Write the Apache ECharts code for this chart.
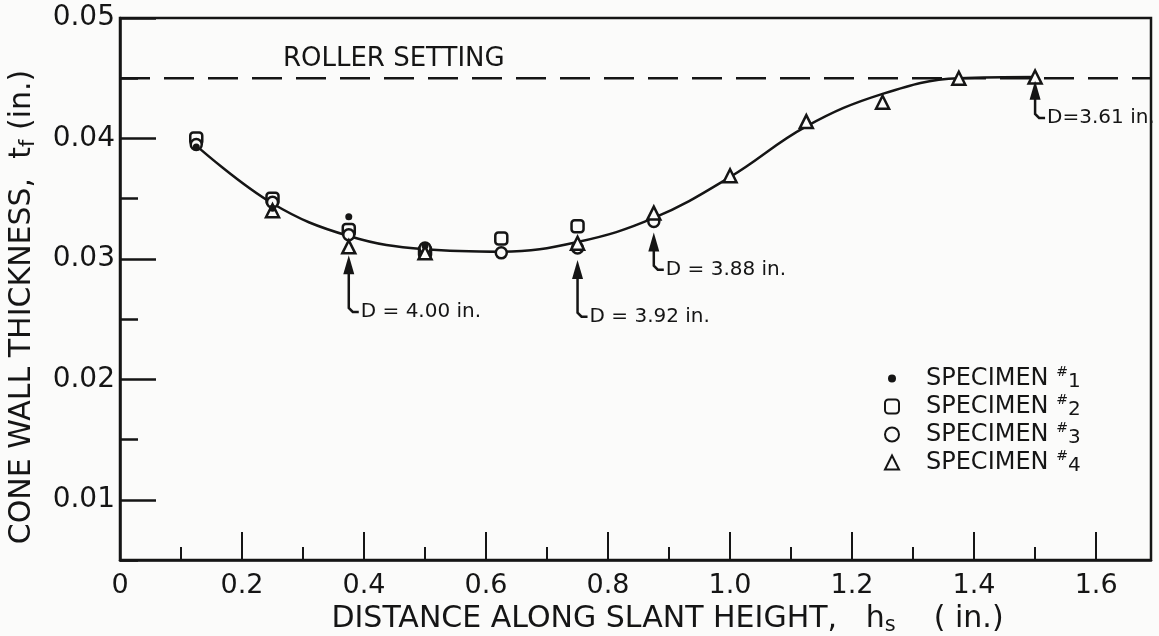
<!DOCTYPE html>
<html>
<head>
<meta charset="utf-8">
<title>Cone wall thickness</title>
<script src="https://cdn.jsdelivr.net/npm/echarts@6/dist/echarts.min.js"></script>
<style>
  html, body { margin: 0; padding: 0; background: #fbfbfa; }
  #chart { width: 1159px; height: 636px; }
</style>
</head>
<body>
<div id="chart"></div>
<script>
// distance along slant height h_s (in.)
const positions = [0.125, 0.25, 0.375, 0.5, 0.625, 0.75, 0.875, 1.0, 1.125, 1.25, 1.375, 1.5];
// faired curve through the measurements, t_f (in.)
const fairedCurve = [0.0394, 0.0346, 0.0319, 0.0308, 0.0306, 0.0314, 0.0334, 0.0368, 0.0410, 0.0437, 0.0450, 0.0451];
// measured wall thickness per specimen (null = no point)
const specimen1 = [0.0393, 0.0342, 0.0335, 0.0311, null, null, null, null, null, null, null, null];
const specimen2 = [0.0400, 0.0350, 0.0324, 0.0306, 0.0317, 0.0327, null, null, null, null, null, null];
const specimen3 = [0.0395, 0.0347, 0.0320, 0.0309, 0.0305, 0.0309, 0.0331, null, null, null, null, null];
const specimen4 = [null, 0.0340, 0.0310, 0.0305, null, 0.0313, 0.0338, 0.0369, 0.0414, 0.0430, 0.0450, 0.0451];
const specimenNames = ['SPECIMEN #1', 'SPECIMEN #2', 'SPECIMEN #3', 'SPECIMEN #4'];

// roller setting line and where its caption starts
const rollerSetting = 0.045;
const rollerLabelAt = 0.267;

// diameter call-outs: where, arrow tip, foot of the leader
const calloutX = [0.375, 0.75, 0.875, 1.5];
const calloutTip = [0.0303, 0.0299, 0.0322, 0.0448];
const calloutFoot = [0.0256, 0.0252, 0.0291, 0.0417];
const calloutText = ['D = 4.00 in.', 'D = 3.92 in.', 'D = 3.88 in.', 'D=3.61 in.'];

const xMin = 0, xMax = 1.69;
const yMin = 0.005, yMax = 0.05;
const yMajorTicks = [0.01, 0.02, 0.03, 0.04, 0.05];

const ink = '#151515';
const paper = '#fbfbfa';
const font = 'DejaVu Sans';

function pairs(values) {
    return positions.map((x, i) => [x, values[i]]).filter(p => p[1] !== null);
}

const hollow = { color: paper, borderColor: ink, borderWidth: 2.5, opacity: 1 };
const titleRich = {
    a: { fontSize: 30, fontFamily: font, color: ink, lineHeight: 34 },
    s: { fontSize: 21, fontFamily: font, color: ink, verticalAlign: 'bottom', lineHeight: 26 }
};

const chart = echarts.init(document.getElementById('chart'));
chart.setOption({
    backgroundColor: paper,
    animation: false,
    textStyle: { fontFamily: font, color: ink },
    grid: {
        left: 120, right: 8, top: 18, bottom: 76,
        containLabel: false, outerBoundsMode: 'none',
        show: true, borderColor: ink, borderWidth: 2.5, backgroundColor: 'transparent'
    },
    legend: {
        left: 877, top: 360, orient: 'vertical',
        itemWidth: 14, itemHeight: 14, itemGap: 1,
        data: [
            { name: specimenNames[0], icon: 'circle', itemStyle: { color: ink, borderColor: paper, borderWidth: 6 } },
            { name: specimenNames[1], icon: 'roundRect' },
            { name: specimenNames[2], icon: 'circle' },
            { name: specimenNames[3], icon: 'triangle' }
        ],
        formatter: function (name) {
            const n = name.split('#')[1];
            return '{g| }{t|SPECIMEN }{sup|#}{n|' + n + '}';
        },
        textStyle: {
            color: ink,
            rich: {
                g: { width: 22 },
                t: { fontSize: 24, fontFamily: font, lineHeight: 27, color: ink },
                sup: { fontSize: 14, fontFamily: font, verticalAlign: 'top', lineHeight: 27, color: ink },
                n: { fontSize: 20, fontFamily: font, verticalAlign: 'bottom', lineHeight: 22, color: ink }
            }
        }
    },
    xAxis: [{
        type: 'value', min: xMin, max: xMax, interval: 0.2,
        name: '{a|DISTANCE ALONG SLANT HEIGHT,   h}{s|s}{a|    ( in.)}',
        nameLocation: 'middle', nameGap: 32,
        nameTextStyle: { padding: [0, 0, 0, 64], rich: titleRich },
        axisLine: { lineStyle: { color: ink, width: 2.5 } },
        axisTick: { inside: true, length: 28, lineStyle: { color: ink, width: 2 } },
        axisLabel: {
            fontSize: 27, color: ink, margin: 12, showMaxLabel: false,
            formatter: v => (v === 0 ? '0' : v.toFixed(1))
        },
        splitLine: { show: false }
    }, {
        type: 'value', min: xMin, max: xMax, interval: 0.1, position: 'bottom',
        axisLine: { show: false },
        axisTick: { inside: true, length: 13, lineStyle: { color: ink, width: 2 } },
        axisLabel: { show: false },
        splitLine: { show: false }
    }],
    yAxis: [{
        type: 'value', min: yMin, max: yMax, interval: 0.005,
        name: '{a|CONE WALL THICKNESS,  t}{s|f}{a| (in.)}',
        nameLocation: 'middle', nameRotate: 90, nameGap: 81,
        nameTextStyle: { padding: [0, 36, 0, 0], rich: titleRich },
        axisLine: { lineStyle: { color: ink, width: 2.5 } },
        axisTick: { inside: true, length: 36, customValues: yMajorTicks, lineStyle: { color: ink, width: 2.5 } },
        axisLabel: {
            fontSize: 28, color: ink, margin: 5, customValues: yMajorTicks,
            formatter: v => v.toFixed(2)
        },
        splitLine: { show: false }
    }, {
        type: 'value', min: yMin, max: yMax, interval: 0.005, position: 'left',
        axisLine: { show: false },
        axisTick: { inside: true, length: 18, lineStyle: { color: ink, width: 2.5 } },
        axisLabel: { show: false },
        splitLine: { show: false }
    }],
    series: [{
        name: 'roller setting',
        type: 'line',
        data: [[xMin, rollerSetting], [xMax, rollerSetting]],
        symbol: 'none',
        lineStyle: { color: ink, width: 2.5, type: [30, 14] },
        z: 1
    }, {
        name: 'faired',
        type: 'line',
        data: pairs(fairedCurve),
        smooth: 0.4,
        symbol: 'none',
        lineStyle: { color: ink, width: 2.5 },
        z: 2
    }, {
        name: specimenNames[0], type: 'scatter', data: pairs(specimen1),
        symbol: 'circle', symbolSize: 7, itemStyle: { color: ink, opacity: 1 }, z: 5
    }, {
        name: specimenNames[1], type: 'scatter', data: pairs(specimen2),
        symbol: 'roundRect', symbolSize: 12, itemStyle: hollow, z: 4
    }, {
        name: specimenNames[2], type: 'scatter', data: pairs(specimen3),
        symbol: 'circle', symbolSize: 11, itemStyle: hollow, z: 4
    }, {
        name: specimenNames[3], type: 'scatter', data: pairs(specimen4),
        symbol: 'triangle', symbolSize: 13, itemStyle: hollow, z: 4
    }, {
        name: 'callouts',
        type: 'custom',
        data: calloutX.map((x, i) => [x, calloutTip[i], calloutFoot[i]]),
        z: 6,
        renderItem: function (params, api) {
            const tip = api.coord([api.value(0), api.value(1)]);
            const foot = api.coord([api.value(0), api.value(2)]);
            const head = 19;
            return {
                type: 'group',
                children: [{
                    type: 'polygon',
                    shape: { points: [[tip[0], tip[1]], [tip[0] - 5.5, tip[1] + head], [tip[0] + 5.5, tip[1] + head]] },
                    style: { fill: ink }
                }, {
                    type: 'polyline',
                    shape: { points: [[tip[0], tip[1] + head - 2], [foot[0], foot[1] - 4], [foot[0] + 4, foot[1]], [foot[0] + 10, foot[1]]] },
                    style: { stroke: ink, lineWidth: 2.5, fill: null }
                }, {
                    type: 'text',
                    x: foot[0] + 12, y: foot[1],
                    style: {
                        text: calloutText[params.dataIndex], fill: ink,
                        fontSize: 20, fontFamily: font, verticalAlign: 'middle', align: 'left'
                    }
                }]
            };
        }
    }, {
        name: 'roller caption',
        type: 'custom',
        data: [[rollerLabelAt, rollerSetting]],
        z: 6,
        renderItem: function (params, api) {
            const p = api.coord([api.value(0), api.value(1)]);
            return {
                type: 'text',
                x: p[0], y: p[1] - 6,
                style: {
                    text: 'ROLLER SETTING', fill: ink,
                    fontSize: 26, fontFamily: font, verticalAlign: 'bottom', align: 'left'
                }
            };
        }
    }]
});
</script>
</body>
</html>
